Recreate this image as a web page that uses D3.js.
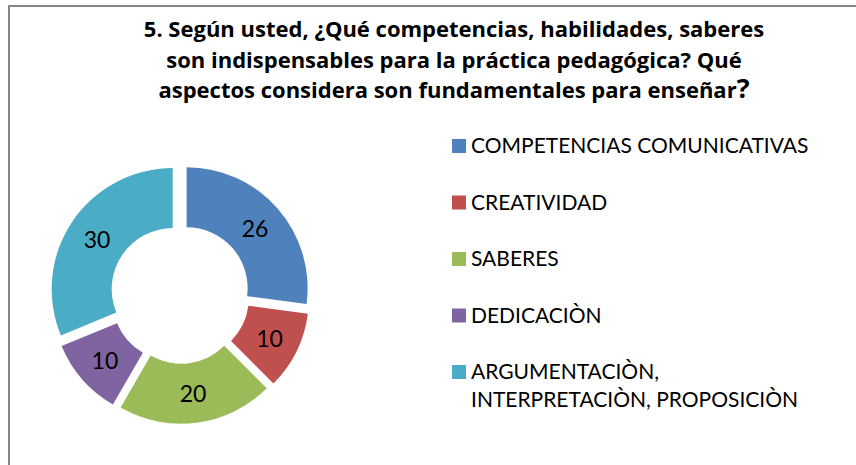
<!DOCTYPE html>
<html>
<head>
<meta charset="utf-8">
<script src="https://cdn.jsdelivr.net/npm/d3@7"></script>
<style>
  body { margin: 0; background: #fff; }
  svg { display: block; }
</style>
</head>
<body>
<div id="chart"></div>
<script>
// Chart data
var categories = ["COMPETENCIAS COMUNICATIVAS", "CREATIVIDAD", "SABERES", "DEDICACIÒN", "ARGUMENTACIÒN, INTERPRETACIÒN, PROPOSICIÒN"];
var values = [26, 10, 20, 10, 30];
var legendLines = [["COMPETENCIAS COMUNICATIVAS"], ["CREATIVIDAD"], ["SABERES"], ["DEDICACIÒN"], ["ARGUMENTACIÒN,", "INTERPRETACIÒN, PROPOSICIÒN"]];
var colors = ["#4F81BD", "#C0504D", "#9BBB59", "#8064A2", "#4BACC6"];
var titleLines = ["5. Según usted, ¿Qué competencias, habilidades, saberes", "son indispensables para la práctica pedagógica? Qué", "aspectos considera son fundamentales para enseñar"];

var width = 856, height = 465;

var svg = d3.select("#chart")
  .append("svg")
  .attr("width", width)
  .attr("height", height);

// Chart frame (cropped on the right and bottom)
svg.append("rect")
  .attr("x", 9)
  .attr("y", 6)
  .attr("width", 1000)
  .attr("height", 600)
  .attr("fill", "none")
  .attr("stroke", "#868686")
  .attr("stroke-width", 2);

// Title
var title = svg.append("text")
  .attr("text-anchor", "middle")
  .style("font-family", "'Open Sans', Lato, sans-serif")
  .style("font-weight", "bold")
  .style("font-size", "22px")
  .attr("fill", "#000");

titleLines.forEach(function(t, i) {
  title.append("tspan")
    .attr("x", 454)
    .attr("y", 37 + i * 30.5)
    .text(t);
  if (i === titleLines.length - 1) {
    title.append("tspan").style("font-size", "27px").text("?");
  }
});

// Donut
var cx = 180, cy = 294;
var outerR = 121, innerR = 61, explode = 8.8;

var pie = d3.pie().sort(null).value(function(d) { return d; });
var arc = d3.arc().innerRadius(innerR).outerRadius(outerR);
var labelArc = d3.arc().innerRadius((innerR + outerR) / 2).outerRadius((innerR + outerR) / 2);

var donut = svg.append("g")
  .attr("transform", "translate(" + cx + "," + cy + ")");

var slices = donut.selectAll("g.slice")
  .data(pie(values))
  .enter()
  .append("g")
  .attr("class", "slice")
  .attr("transform", function(d) {
    var mid = (d.startAngle + d.endAngle) / 2;
    return "translate(" + (Math.sin(mid) * explode) + "," + (-Math.cos(mid) * explode) + ")";
  });

slices.append("path")
  .attr("d", arc)
  .attr("fill", function(d, i) { return colors[i]; });

slices.append("text")
  .attr("transform", function(d) { return "translate(" + labelArc.centroid(d) + ")"; })
  .attr("text-anchor", "middle")
  .attr("dominant-baseline", "central")
  .style("font-family", "Lato, 'Open Sans', sans-serif")
  .style("font-size", "23px")
  .attr("fill", "#000")
  .text(function(d) { return d.value; });

// Legend
var legend = svg.append("g")
  .attr("transform", "translate(452,139)");

var items = legend.selectAll("g.item")
  .data(legendLines)
  .enter()
  .append("g")
  .attr("class", "item")
  .attr("transform", function(d, i) { return "translate(0," + (i * 56.5) + ")"; });

items.append("rect")
  .attr("width", 14)
  .attr("height", 14)
  .attr("fill", function(d, i) { return colors[i]; });

items.append("text")
  .style("font-family", "Lato, 'Open Sans', sans-serif")
  .style("font-size", "21px")
  .attr("fill", "#000")
  .selectAll("tspan")
  .data(function(d) { return d; })
  .enter()
  .append("tspan")
  .attr("x", 19)
  .attr("y", function(d, j) { return 14 + j * 28; })
  .text(function(d) { return d; });
</script>
</body>
</html>
